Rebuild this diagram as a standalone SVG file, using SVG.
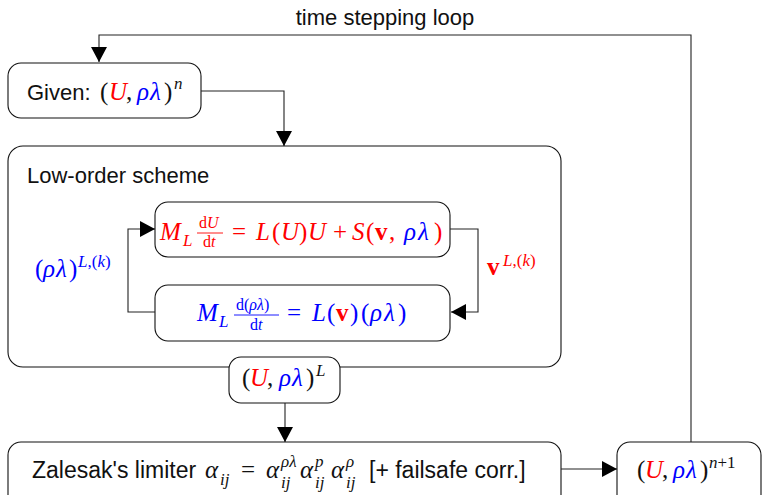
<svg xmlns="http://www.w3.org/2000/svg" width="762" height="495" viewBox="0 0 762 495">
<style>
.box{fill:#fff;stroke:#111;stroke-width:1.1}
.ln{fill:none;stroke:#222;stroke-width:1.1}
.sans{font-family:"Liberation Sans",Arial,sans-serif;font-size:22px;fill:#111}
.m{font-family:"Liberation Serif","Times New Roman",serif;font-size:25px;fill:#111}
.i{font-style:italic}
.bf{font-weight:bold;font-style:normal}
.r{fill:#f00}
.b{fill:#00f}
.s{font-size:17px}
.f{font-size:16px}
</style>
<defs>
<marker id="ah" markerUnits="userSpaceOnUse" markerWidth="16" markerHeight="16" refX="15" refY="8" orient="auto" viewBox="0 0 16 16">
<path d="M0,0 L15,8 L0,16 z" fill="#000"/>
</marker>
</defs>

<text class="sans" x="385" y="25" text-anchor="middle">time stepping loop</text>

<g id="given">
<rect class="box" x="8" y="63" width="193" height="55" rx="13"/>
<text class="sans" x="27" y="100">Given:</text>
<text class="m" y="100"><tspan x="100">(</tspan><tspan x="109" class="i r">U</tspan><tspan x="126">,</tspan><tspan x="137" class="i b">ρ</tspan><tspan x="150" class="i b">λ</tspan><tspan x="164">)</tspan><tspan x="174" y="89" class="i s">n</tspan></text>
</g>

<g id="loworder">
<rect class="box" x="8" y="146" width="553" height="221" rx="15"/>
<text class="sans" x="27" y="183">Low-order scheme</text>
</g>

<g id="eqU">
<rect class="box" x="155" y="202" width="295" height="55" rx="13"/>
<text class="m r" y="240"><tspan x="160" class="i">M</tspan><tspan x="183" y="246" class="i s">L</tspan><tspan x="199" y="228" class="f">d</tspan><tspan class="i f">U</tspan><tspan x="203" y="247" class="f">d</tspan><tspan class="i f">t</tspan><tspan x="232" y="240">=</tspan><tspan x="256" class="i">L</tspan><tspan x="272">(</tspan><tspan x="281" class="i">U</tspan><tspan x="299">)</tspan><tspan x="308" class="i">U</tspan><tspan x="333">+</tspan><tspan x="352" class="i">S</tspan><tspan x="366">(</tspan><tspan x="375" class="bf">v</tspan><tspan x="389">,</tspan><tspan x="404" class="i b">ρ</tspan><tspan x="418" class="i b">λ</tspan><tspan x="434">)</tspan></text>
<line x1="197" y1="233" x2="223" y2="233" stroke="#f00" stroke-width="0.9"/>
</g>

<g id="eqRho">
<rect class="box" x="155" y="285" width="295" height="56" rx="13"/>
<text class="m b" y="321"><tspan x="197" class="i">M</tspan><tspan x="219" y="327" class="i s">L</tspan><tspan x="236" y="310" class="f">d(</tspan><tspan class="i f">ρλ</tspan><tspan class="f">)</tspan><tspan x="250" y="330" class="f">d</tspan><tspan class="i f">t</tspan><tspan x="287" y="321">=</tspan><tspan x="312" class="i">L</tspan><tspan x="327">(</tspan><tspan x="336" class="bf r">v</tspan><tspan x="350">)</tspan><tspan x="361">(</tspan><tspan x="370" class="i">ρ</tspan><tspan x="384" class="i">λ</tspan><tspan x="398">)</tspan></text>
<line x1="234" y1="315" x2="279" y2="315" stroke="#00f" stroke-width="0.9"/>
</g>

<g id="labelRho">
<text class="m b" y="277"><tspan x="35">(</tspan><tspan x="43" class="i">ρ</tspan><tspan x="56" class="i">λ</tspan><tspan x="69">)</tspan><tspan x="78" y="267" class="i s">L</tspan><tspan class="s">,(</tspan><tspan class="i s">k</tspan><tspan class="s">)</tspan></text>
</g>

<g id="labelV">
<text class="m r" y="275"><tspan x="487" class="bf">v</tspan><tspan x="503" y="266" class="i s">L</tspan><tspan class="s">,(</tspan><tspan class="i s">k</tspan><tspan class="s">)</tspan></text>
</g>

<g id="stateL">
<rect class="box" x="229" y="357" width="111" height="46" rx="12"/>
<text class="m" y="386"><tspan x="242">(</tspan><tspan x="250" class="i r">U</tspan><tspan x="267">,</tspan><tspan x="279" class="i b">ρ</tspan><tspan x="292" class="i b">λ</tspan><tspan x="306">)</tspan><tspan x="316" y="376" class="i s">L</tspan></text>
</g>

<g id="zalesak">
<rect class="box" x="8" y="442" width="553" height="70" rx="13"/>
<text class="sans" x="32" y="478" style="font-size:23px">Zalesak's limiter</text>
<text class="m" y="478"><tspan x="205" class="i">α</tspan><tspan x="220" y="485" class="i s">ij</tspan><tspan x="241" y="478">=</tspan><tspan x="266" class="i">α</tspan><tspan x="281" y="467" class="i s">ρλ</tspan><tspan x="281" y="488" class="i s">ij</tspan><tspan x="300" y="478" class="i">α</tspan><tspan x="315" y="467" class="i s">p</tspan><tspan x="315" y="488" class="i s">ij</tspan><tspan x="331" y="478" class="i">α</tspan><tspan x="346" y="467" class="i s">ρ</tspan><tspan x="346" y="488" class="i s">ij</tspan></text>
<text class="sans" x="369" y="478" style="font-size:23px">[+ failsafe corr.]</text>
</g>

<g id="stateNext">
<rect class="box" x="617" y="442" width="144" height="70" rx="13"/>
<text class="m" y="478"><tspan x="637">(</tspan><tspan x="645" class="i r">U</tspan><tspan x="662">,</tspan><tspan x="673" class="i b">ρ</tspan><tspan x="686" class="i b">λ</tspan><tspan x="700">)</tspan><tspan x="709" y="468" class="i s">n</tspan><tspan class="s">+1</tspan></text>
</g>

<g id="connectors">
<path class="ln" d="M691,442 V35 H99 V62" marker-end="url(#ah)"/>
<path class="ln" d="M201,91 H284 V146" marker-end="url(#ah)"/>
<path class="ln" d="M155,312 H128 V229 H155" marker-end="url(#ah)"/>
<path class="ln" d="M450,229 H478 V312 H451" marker-end="url(#ah)"/>
<path class="ln" d="M285,403 V442" marker-end="url(#ah)"/>
<path class="ln" d="M561,469 H617" marker-end="url(#ah)"/>
</g>
</svg>
